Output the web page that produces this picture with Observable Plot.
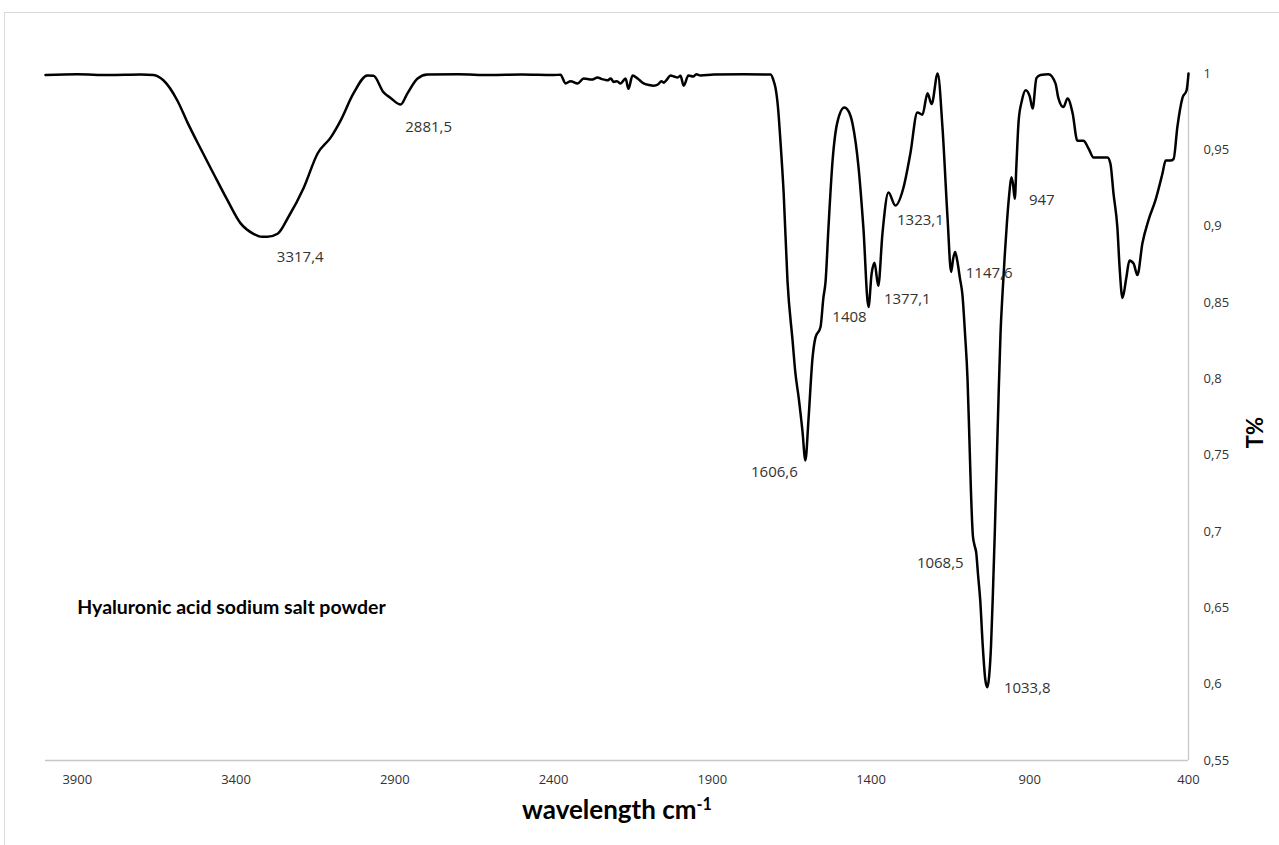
<!DOCTYPE html>
<html>
<head>
<meta charset="utf-8">
<script src="https://cdn.jsdelivr.net/npm/d3@7"></script>
<script src="https://cdn.jsdelivr.net/npm/@observablehq/plot@0.6"></script>
<style>
  html, body { margin: 0; padding: 0; background: #fff; overflow: hidden; width: 1279px; height: 845px; }
  #frame { position: absolute; left: 4px; top: 12px; width: 1400px; height: 1000px; border: 1px solid #d9d9d9; box-sizing: border-box; }
  #chart { position: absolute; left: 0; top: 0; }
</style>
</head>
<body>
<div id="frame"></div>
<div id="chart"></div>
<script>
// FTIR spectrum of hyaluronic acid sodium salt powder
const wavenumber = [
  4000, 3900, 3800, 3700, 3660, 3628, 3584, 3553, 3512, 3471, 3427, 3386, 3345, 3317.4, 3301, 3269, 3235, 3187, 3143, 3102,
  3071, 3030, 2986, 2967, 2935, 2913, 2881.5, 2860, 2828, 2797, 2700, 2600, 2500, 2400, 2378, 2362, 2346, 2324, 2305, 2280,
  2261, 2250, 2240, 2230, 2220, 2210, 2200, 2189, 2173, 2164, 2151, 2135, 2116, 2100, 2085, 2070, 2060, 2053, 2045, 2031,
  2020, 2009, 2000, 1990, 1975, 1960, 1950, 1937, 1896, 1800, 1716, 1707,
  1701, 1693, 1685, 1675, 1663, 1647, 1638, 1628, 1616, 1606.6, 1597, 1584, 1575, 1559, 1550, 1543, 1534, 1521, 1506, 1484,
  1470, 1458, 1439, 1424, 1408, 1398, 1389, 1377.1, 1364, 1345, 1323.1, 1298, 1276, 1254, 1238, 1222, 1209, 1190, 1175, 1159,
  1147.6, 1141, 1135, 1128, 1120, 1112, 1104, 1096, 1090, 1085, 1079, 1074, 1068.5, 1063, 1056, 1048, 1040, 1033.8, 1028, 1022,
  1016, 1010, 1004, 998, 992, 986, 979, 972, 965, 958, 953, 947, 942, 935, 925, 913, 900, 891, 879, 866,
  841, 819, 810, 794, 781, 765, 750, 731, 715, 699, 677, 655, 646, 636, 624, 617, 608, 596, 586, 573,
  561, 545, 526, 504, 482, 472, 457, 447, 435, 419, 406, 400
];
const transmittance = [
  0.999, 0.9995, 0.999, 0.9993, 0.999, 0.9954, 0.982, 0.968, 0.951, 0.9345, 0.917, 0.902, 0.895, 0.893, 0.893, 0.895, 0.906, 0.925, 0.9476, 0.958,
  0.969, 0.987, 0.9987, 0.9985, 0.9876, 0.984, 0.9797, 0.987, 0.9967, 0.9993, 0.9995, 0.999, 0.9993, 0.999, 0.9992, 0.9935, 0.995, 0.9935, 0.9967, 0.996,
  0.9974, 0.9965, 0.996, 0.9955, 0.9967, 0.9945, 0.995, 0.9935, 0.9967, 0.990, 0.9987, 0.9967, 0.9935, 0.9925, 0.992, 0.993, 0.995, 0.994, 0.9955, 0.9987,
  0.998, 0.9974, 0.9985, 0.992, 0.9987, 0.998, 0.9995, 0.9987, 0.9993, 0.9995, 0.9993, 0.9954,
  0.9908, 0.978, 0.955, 0.9214, 0.864, 0.825, 0.8035, 0.788, 0.766, 0.7465, 0.773, 0.814, 0.827, 0.834, 0.853, 0.864, 0.899, 0.943, 0.968, 0.9777,
  0.975, 0.967, 0.938, 0.899, 0.847, 0.869, 0.876, 0.861, 0.895, 0.922, 0.9135, 0.925, 0.9476, 0.9745, 0.973, 0.987, 0.980, 1.0, 0.965, 0.9057,
  0.870, 0.879, 0.883, 0.877, 0.866, 0.855, 0.83, 0.80, 0.76, 0.725, 0.697, 0.691, 0.686, 0.672, 0.655, 0.625, 0.603, 0.598, 0.605, 0.625,
  0.66, 0.70, 0.745, 0.79, 0.83, 0.855, 0.88, 0.902, 0.92, 0.932, 0.928, 0.918, 0.94, 0.969, 0.982, 0.989, 0.985, 0.977, 0.997, 0.999,
  0.9995, 0.9935, 0.984, 0.978, 0.9836, 0.974, 0.956, 0.956, 0.951, 0.945, 0.945, 0.945, 0.941, 0.921, 0.899, 0.873, 0.853, 0.866, 0.8775, 0.8755,
  0.868, 0.889, 0.904, 0.917, 0.9345, 0.943, 0.943, 0.944, 0.965, 0.984, 0.989, 1.0
];

// Peak annotations
const peakLabels = ["3317,4", "2881,5", "1606,6", "1408", "1377,1", "1323,1", "1147,6", "1068,5", "1033,8", "947"];
const peakWavenumbers = [3317.4, 2881.5, 1606.6, 1408, 1377.1, 1323.1, 1147.6, 1068.5, 1033.8, 947];
const peakTransmittance = [0.893, 0.9797, 0.7465, 0.847, 0.861, 0.9135, 0.870, 0.686, 0.598, 0.918];

// Axes
const xTicks = [3900, 3400, 2900, 2400, 1900, 1400, 900, 400];
const yTicks = [0.55, 0.6, 0.65, 0.7, 0.75, 0.8, 0.85, 0.9, 0.95, 1];
const xDomain = [4000, 400];
const yDomain = [0.55, 1];

// Texts
const sampleName = "Hyaluronic acid sodium salt powder";
const sampleNameAt = {wavenumber: 3900, transmittance: 0.65};
const xTitle = "wavelength cm-1";
const yTitle = "T%";

const spectrum = wavenumber.map((w, i) => ({w, t: transmittance[i]}));
const peaks = peakLabels.map((label, i) => ({label, w: peakWavenumbers[i], t: peakTransmittance[i]}));

// label placement relative to its peak (pixels)
const labelOffsets = {
  "3317,4": [38, 20], "2881,5": [28, 23], "1606,6": [-31, 12], "1408": [-19, 10], "1377,1": [29, 13],
  "1323,1": [25, 15], "1147,6": [38, 1], "1068,5": [-36, 10], "1033,8": [40, 1], "947": [27, 2]
};

const fmtY = d => String(+d.toFixed(2)).replace(".", ",");
const axisColor = "#c8c8c8";
const numFont = "'Open Sans', sans-serif";
const boldFont = "Lato, sans-serif";

const chart = Plot.plot({
  width: 1279,
  height: 845,
  marginLeft: 45,
  marginRight: 91,
  marginTop: 73,
  marginBottom: 85,
  style: {background: "transparent", overflow: "visible", fontFamily: numFont},
  x: {domain: xDomain, label: null},
  y: {domain: yDomain, label: null},
  marks: [
    Plot.ruleY([yDomain[0]], {stroke: axisColor, strokeWidth: 1.3}),
    Plot.ruleX([xDomain[1]], {stroke: axisColor, strokeWidth: 1.3}),
    Plot.axisX({ticks: xTicks, tickSize: 0, tickPadding: 14, tickFormat: d => String(d), fontSize: 13, fill: "#333", label: null}),
    Plot.axisY({anchor: "right", ticks: yTicks, tickSize: 0, tickPadding: 15, tickFormat: fmtY, fontSize: 13, fill: "#333", label: null}),
    Plot.line(spectrum, {x: "w", y: "t", stroke: "#000", strokeWidth: 2.5, curve: "monotone-x"}),
    ...peaks.map(p => Plot.text([p], {
      x: "w", y: "t", text: "label",
      dx: labelOffsets[p.label][0], dy: labelOffsets[p.label][1],
      fontSize: 15, fill: "#333", fontFamily: numFont
    })),
    Plot.text([sampleName], {
      x: () => sampleNameAt.wavenumber, y: () => sampleNameAt.transmittance, text: d => d,
      textAnchor: "start", fontWeight: "bold", fontSize: 19.5, fill: "#000", fontFamily: boldFont
    }),
    Plot.text([xTitle], {text: d => d, frameAnchor: "bottom", dy: 58, fontWeight: "bold", fontSize: 26, fill: "#000", fontFamily: boldFont}),
    Plot.text([yTitle], {text: d => d, frameAnchor: "right", dx: 67, rotate: -90, fontWeight: "bold", fontSize: 22, fill: "#000", fontFamily: boldFont})
  ]
});

// superscript for the x title
d3.select(chart).selectAll("text").filter(function () { return this.textContent === xTitle; })
  .each(function () {
    const t = d3.select(this);
    t.text("wavelength cm");
    t.append("tspan").attr("dy", "-0.5em").attr("font-size", "0.62em").text("-1");
  });

document.getElementById("chart").appendChild(chart);
</script>
</body>
</html>
